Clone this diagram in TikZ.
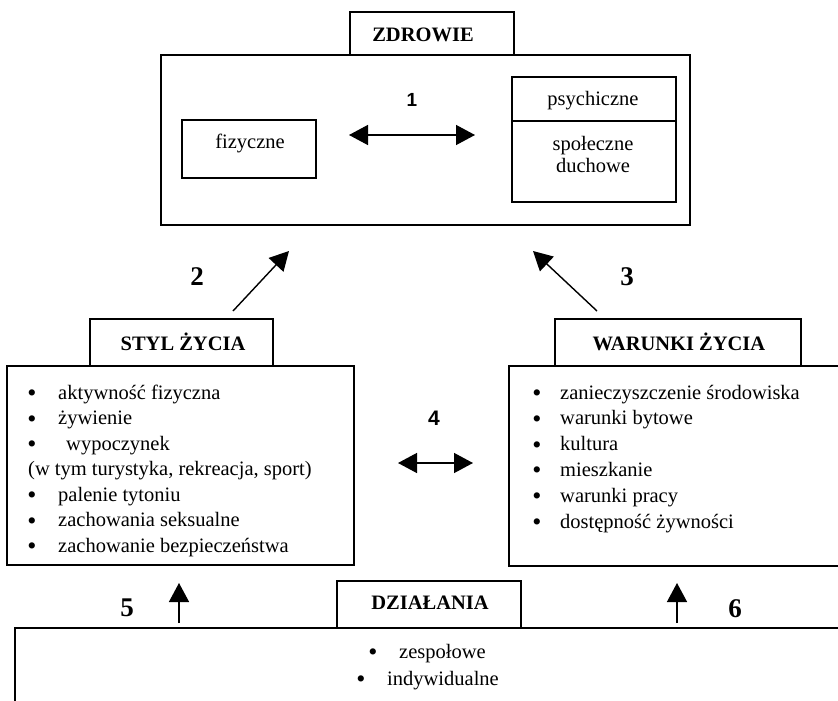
\documentclass[tikz,border=0pt]{standalone}
\usepackage{fontspec}
\setmainfont{Liberation Serif}
\newfontfamily\numfont{Liberation Sans}
\usetikzlibrary{arrows.meta}
\begin{document}
\begin{tikzpicture}[x=1pt,y=-1pt,
  frame/.style={draw,line width=1.5pt,inner sep=0pt,fill=white},
  txt/.style={font=\fontsize{20.5}{25}\selectfont,inner sep=0pt},
  ttl/.style={font=\fontsize{20.5}{25}\selectfont\bfseries,inner sep=0pt},
  bignum/.style={font=\fontsize{27}{30}\selectfont\bfseries,inner sep=0pt},
  sansnum/.style={font=\fontsize{19}{22}\selectfont\numfont\bfseries,inner sep=0pt},
  bul/.style={font=\fontsize{26}{26}\selectfont,inner sep=0pt,anchor=base,yshift=-2.5pt},
  item/.style={font=\fontsize{20.5}{25}\selectfont,inner sep=0pt,anchor=base west},
  arr/.style={line width=1.4pt,-{Triangle[length=19pt,width=20pt]}},
  darr/.style={line width=1.4pt,{Triangle[length=19pt,width=20pt]}-{Triangle[length=19pt,width=20pt]}}]
\useasboundingbox (0,0) rectangle (838,701);
\clip (0,0) rectangle (838,701);

% ZDROWIE
\node[frame,minimum width=529pt,minimum height=170pt] (zdrowie) at (425.5,140) {};
\node[frame,minimum width=164pt,minimum height=43pt] (zdtab) at (432,33.5) {};
\node[ttl,anchor=base] (zdtxt) at (423,42) {ZDROWIE};
\node[frame,minimum width=134pt,minimum height=58pt] (fiz) at (249,149) {};
\node[txt,anchor=base] (fiztxt) at (250,148) {fizyczne};
\node[frame,minimum width=164pt,minimum height=44pt] (psy) at (594,99) {};
\node[frame,minimum width=164pt,minimum height=81pt] (spo) at (594,161.5) {};
\node[txt,anchor=base] (psytxt) at (593,105) {psychiczne};
\node[txt,anchor=base] (spotxt) at (593,150) {społeczne};
\node[txt,anchor=base] (ductxt) at (593,172) {duchowe};
\node[sansnum] (n1) at (412,99.5) {1};
\coordinate (a1l) at (349,135);
\coordinate (a1r) at (475,135);
\draw[darr] (a1l) -- (a1r);

% arrows 2 and 3
\coordinate (a2s) at (233,311);
\coordinate (a2e) at (289,251);
\coordinate (a3s) at (597,311);
\coordinate (a3e) at (533,251);
\draw[arr] (a2s) -- (a2e);
\draw[arr] (a3s) -- (a3e);
\node[bignum] (n2) at (197,277) {2};
\node[bignum] (n3) at (627,277) {3};

% STYL ZYCIA
\node[frame,minimum width=347pt,minimum height=199pt] (styl) at (180.5,465.5) {};
\node[frame,minimum width=183pt,minimum height=47pt] (stylTab) at (181.5,342.5) {};
\node[ttl,anchor=base] (stylTxt) at (183,350) {STYL ŻYCIA};
\node[bul] (sb1) at (32,399) {•};
\node[item] (si1) at (58,399) {aktywność fizyczna};
\node[bul] (sb2) at (32,424.5) {•};
\node[item] (si2) at (58,424.5) {żywienie};
\node[bul] (sb3) at (32,450) {•};
\node[item] (si3) at (66,450) {wypoczynek};
\node[item] (si3b) at (28,475.5) {(w tym turystyka, rekreacja, sport)};
\node[bul] (sb4) at (32,501) {•};
\node[item] (si4) at (58,501) {palenie tytoniu};
\node[bul] (sb5) at (32,526.5) {•};
\node[item] (si5) at (58,526.5) {zachowania seksualne};
\node[bul] (sb6) at (32,552) {•};
\node[item] (si6) at (58,552) {zachowanie bezpieczeństwa};

% WARUNKI ZYCIA
\node[frame,minimum width=391pt,minimum height=200pt] (war) at (704.5,466) {};
\node[frame,minimum width=246pt,minimum height=47pt] (warTab) at (678,342.5) {};
\node[ttl,anchor=base] (warTxt) at (679,350) {WARUNKI ŻYCIA};
\node[bul] (wb1) at (537,399) {•};
\node[item] (wi1) at (560,399) {zanieczyszczenie środowiska};
\node[bul] (wb2) at (537,424.8) {•};
\node[item] (wi2) at (560,424.8) {warunki bytowe};
\node[bul] (wb3) at (537,450.6) {•};
\node[item] (wi3) at (560,450.6) {kultura};
\node[bul] (wb4) at (537,476.4) {•};
\node[item] (wi4) at (560,476.4) {mieszkanie};
\node[bul] (wb5) at (537,502.2) {•};
\node[item] (wi5) at (560,502.2) {warunki pracy};
\node[bul] (wb6) at (537,528) {•};
\node[item] (wi6) at (560,528) {dostępność żywności};

% arrow 4
\node[sansnum,font=\fontsize{21}{24}\selectfont\numfont\bfseries] (n4) at (434,418) {4};
\coordinate (a4l) at (398,463);
\coordinate (a4r) at (473,463);
\draw[darr] (a4l) -- (a4r);

% DZIALANIA
\node[frame,minimum width=885pt,minimum height=172pt] (dz) at (457.5,714) {};
\node[frame,minimum width=184pt,minimum height=47pt] (dzTab) at (429,604.5) {};
\node[ttl,anchor=base] (dzTxt) at (430,609) {DZIAŁANIA};
\node[bul] (db1) at (373,658) {•};
\node[item] (di1) at (399,658) {zespołowe};
\node[bul] (db2) at (361,685) {•};
\node[item] (di2) at (387,685) {indywidualne};

% arrows 5 and 6
\coordinate (a5s) at (179,623);
\coordinate (a5e) at (179,583);
\coordinate (a6s) at (677,623);
\coordinate (a6e) at (677,583);
\draw[arr] (a5s) -- (a5e);
\draw[arr] (a6s) -- (a6e);
\begin{scope}
\clip (90,580) rectangle (780,617);
\node[bignum,anchor=north] (n5) at (127,599) {5};
\node[bignum,anchor=north] (n6) at (735,599) {6};
\end{scope}
\end{tikzpicture}
\end{document}
